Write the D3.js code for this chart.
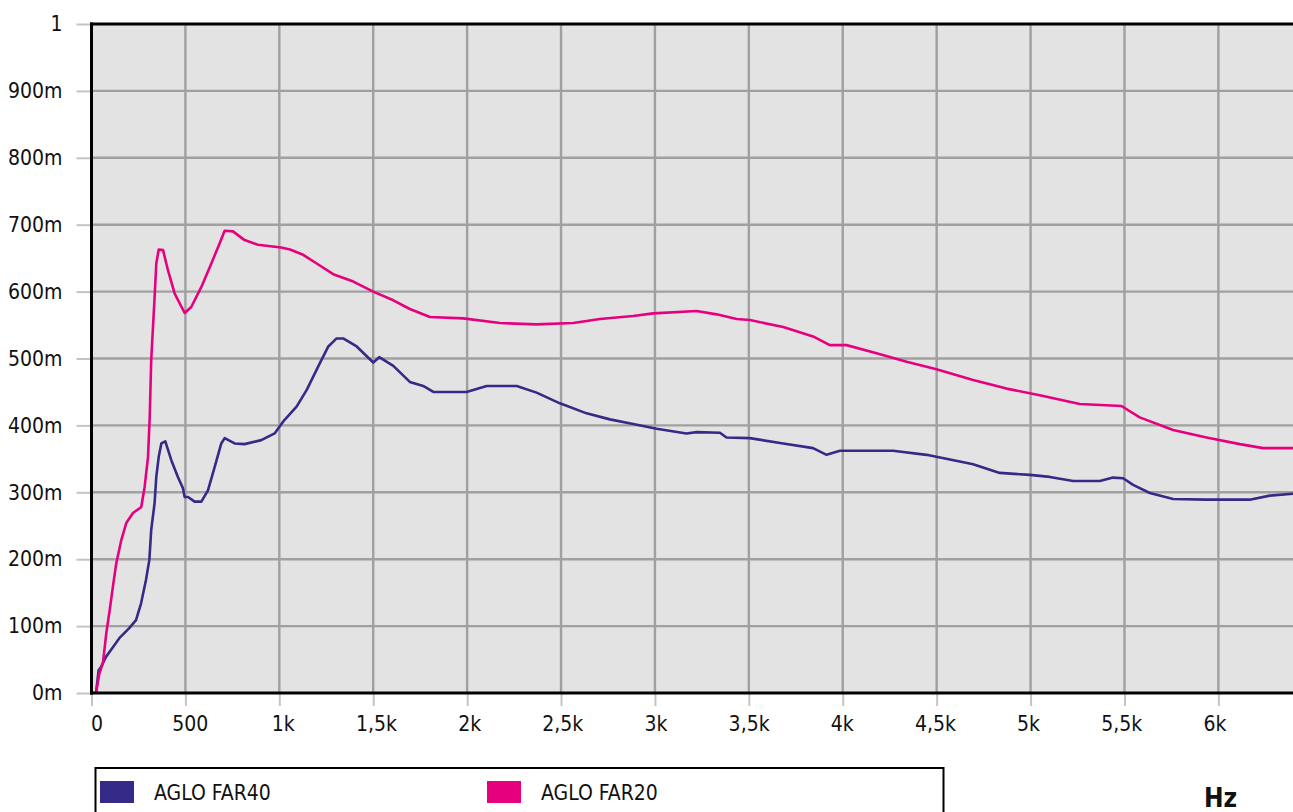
<!DOCTYPE html>
<html>
<head>
<meta charset="utf-8">
<script src="https://cdn.jsdelivr.net/npm/d3@7"></script>
<style>
  html, body { margin: 0; padding: 0; background: #ffffff; }
  svg { display: block; }
  text { font-family: "Liberation Sans Narrow", "DejaVu Sans Condensed", "Liberation Sans", sans-serif; fill: #111; }
</style>
</head>
<body>
<svg id="chart" width="1293" height="812"></svg>
<script>
// ---------- DATA ----------
const seriesNames = ["AGLO FAR40", "AGLO FAR20"];
const seriesColors = ["#352a87", "#e6007e"];

const far40Freq = [0, 0, 24, 38, 51, 77, 113, 148, 201, 237, 264, 290, 308, 318, 336, 345, 358, 372, 393, 425,
  460, 487, 496, 514, 549, 585, 620, 656, 691, 709, 762, 815, 904, 975, 1021, 1092, 1146, 1216, 1261, 1305,
  1340, 1412, 1500, 1532, 1607, 1695, 1766, 1820, 1997, 2104, 2264, 2370, 2494, 2636, 2760, 2884, 3009, 3168,
  3222, 3346, 3381, 3505, 3683, 3842, 3914, 3985, 4268, 4446, 4623, 4694, 4836, 4996, 5102, 5227, 5369, 5439,
  5493, 5546, 5635, 5759, 5937, 6167, 6274, 6400];
const far40Val = [0.072, 0, 0, 0.034, 0.039, 0.054, 0.068, 0.082, 0.097, 0.109, 0.134, 0.169, 0.199, 0.244, 0.284, 0.323, 0.353, 0.373, 0.376, 0.348,
  0.323, 0.306, 0.293, 0.293, 0.286, 0.286, 0.303, 0.338, 0.373, 0.381, 0.373, 0.372, 0.378, 0.388, 0.406, 0.428, 0.453, 0.493, 0.518, 0.530,
  0.530, 0.518, 0.494, 0.502, 0.489, 0.465, 0.459, 0.450, 0.450, 0.459, 0.459, 0.449, 0.433, 0.418, 0.409, 0.402, 0.395, 0.388,
  0.390, 0.389, 0.382, 0.381, 0.373, 0.366, 0.356, 0.362, 0.362, 0.356, 0.346, 0.342, 0.329, 0.326, 0.323, 0.317, 0.317, 0.322,
  0.321, 0.311, 0.299, 0.290, 0.289, 0.289, 0.295, 0.298];

const far20Freq = [20, 24, 42, 61, 79, 97, 114, 132, 159, 185, 221, 265, 283, 301, 310, 318, 336, 345, 358, 381,
  407, 443, 496, 531, 585, 638, 682, 709, 753, 815, 886, 1010, 1057, 1127, 1199, 1287, 1394, 1500, 1607, 1695,
  1802, 1979, 2175, 2370, 2565, 2707, 2884, 2991, 3222, 3328, 3435, 3505, 3683, 3842, 3931, 4020, 4180, 4340,
  4499, 4694, 4872, 5049, 5262, 5484, 5581, 5759, 5937, 6114, 6238, 6400];
const far20Val = [0, 0, 0.029, 0.045, 0.090, 0.124, 0.159, 0.194, 0.229, 0.254, 0.269, 0.278, 0.308, 0.353, 0.413, 0.498, 0.592, 0.642, 0.663, 0.662,
  0.632, 0.597, 0.568, 0.577, 0.607, 0.642, 0.672, 0.691, 0.690, 0.677, 0.670, 0.666, 0.663, 0.655, 0.642, 0.626, 0.615, 0.600, 0.587, 0.574,
  0.562, 0.560, 0.553, 0.551, 0.553, 0.559, 0.5635, 0.5675, 0.571, 0.566, 0.559, 0.5575, 0.547, 0.533, 0.520, 0.520, 0.508, 0.495,
  0.484, 0.468, 0.455, 0.445, 0.432, 0.429, 0.412, 0.393, 0.382, 0.372, 0.366, 0.366];

const xTickValues = [0, 500, 1000, 1500, 2000, 2500, 3000, 3500, 4000, 4500, 5000, 5500, 6000];
const xTickLabels = ["0", "500", "1k", "1,5k", "2k", "2,5k", "3k", "3,5k", "4k", "4,5k", "5k", "5,5k", "6k"];
const yTickValues = [0, 0.1, 0.2, 0.3, 0.4, 0.5, 0.6, 0.7, 0.8, 0.9, 1];
const yTickLabels = ["0m", "100m", "200m", "300m", "400m", "500m", "600m", "700m", "800m", "900m", "1"];
const unitLabel = "Hz";

// ---------- LAYOUT ----------
const L = 91.5, R = 1293.5, T = 24, B = 693;
const FS = 21;
const svg = d3.select("#chart");

const x = d3.scaleLinear().domain([0, 6400]).range([L, R]);
const y = d3.scaleLinear().domain([0, 1]).range([B, T]);

// plot background
svg.append("rect").attr("x", L).attr("y", T).attr("width", R - L).attr("height", B - T).attr("fill", "#e3e3e3");

// grid lines
const grid = svg.append("g");
grid.selectAll(".vg").data(xTickValues.filter(d => d > 0)).join("line")
  .attr("x1", d => x(d)).attr("x2", d => x(d)).attr("y1", T).attr("y2", B)
  .attr("stroke", "#a0a0a0").attr("stroke-width", 2.4);
grid.selectAll(".hg").data(yTickValues.filter(d => d > 0 && d < 1)).join("line")
  .attr("y1", d => y(d)).attr("y2", d => y(d)).attr("x1", L).attr("x2", R)
  .attr("stroke", "#a0a0a0").attr("stroke-width", 2.4);

// axes (outer ticks + labels)
const xAxis = d3.axisBottom(x).tickValues(xTickValues).tickSize(13).tickPadding(10)
  .tickFormat((d, i) => xTickLabels[i]);
const gx = svg.append("g").attr("transform", `translate(0,${B})`).call(xAxis);
gx.select(".domain").remove();
gx.selectAll(".tick line").attr("stroke", "#c4c4c4").attr("stroke-width", 2);
gx.selectAll(".tick text").attr("font-size", FS).attr("fill", "#111")
  .attr("font-family", null)
  .attr("dx", d => 5 - 9 * d / 6000);

const yAxis = d3.axisLeft(y).tickValues(yTickValues).tickSize(15).tickPadding(14)
  .tickFormat((d, i) => yTickLabels[i]);
const gy = svg.append("g").attr("transform", `translate(${L},0)`).call(yAxis);
gy.select(".domain").remove();
gy.selectAll(".tick line").attr("stroke", "#c4c4c4").attr("stroke-width", 2);
gy.selectAll(".tick text").attr("font-size", FS).attr("fill", "#111").attr("font-family", null);

// curves
const line = d3.line().x(d => x(d[0])).y(d => y(d[1]));
svg.append("clipPath").attr("id", "clip").append("rect")
  .attr("x", L).attr("y", T - 2).attr("width", R - L).attr("height", B - T + 2);
const curves = svg.append("g").attr("clip-path", "url(#clip)");
const series = [
  d3.zip(far40Freq, far40Val),
  d3.zip(far20Freq, far20Val)
];
curves.selectAll("path").data(series).join("path")
  .attr("d", line)
  .attr("fill", "none")
  .attr("stroke", (d, i) => seriesColors[i])
  .attr("stroke-width", 2.6)
  .attr("stroke-linejoin", "round");

// frame: left, top, bottom
const frame = svg.append("g").attr("stroke", "#000").attr("stroke-width", 3);
frame.append("line").attr("x1", L).attr("x2", L).attr("y1", T - 1.5).attr("y2", B + 1.5);
frame.append("line").attr("x1", L - 1.5).attr("x2", R).attr("y1", T).attr("y2", T);
frame.append("line").attr("x1", L - 1.5).attr("x2", R).attr("y1", B).attr("y2", B);

// legend
const lg = svg.append("g");
lg.append("rect").attr("x", 95.5).attr("y", 768).attr("width", 848).attr("height", 80)
  .attr("fill", "#fff").attr("stroke", "#000").attr("stroke-width", 2);
const legendX = [100, 487];
seriesNames.forEach((name, i) => {
  lg.append("rect").attr("x", legendX[i]).attr("y", 781).attr("width", 34).attr("height", 22)
    .attr("fill", seriesColors[i]);
  lg.append("text").attr("x", legendX[i] + 54).attr("y", 800).attr("font-size", FS).text(name);
});

// unit label
svg.append("text").attr("x", 1204).attr("y", 807).attr("font-size", 26).attr("font-weight", "bold")
  .text(unitLabel);
</script>
</body>
</html>
